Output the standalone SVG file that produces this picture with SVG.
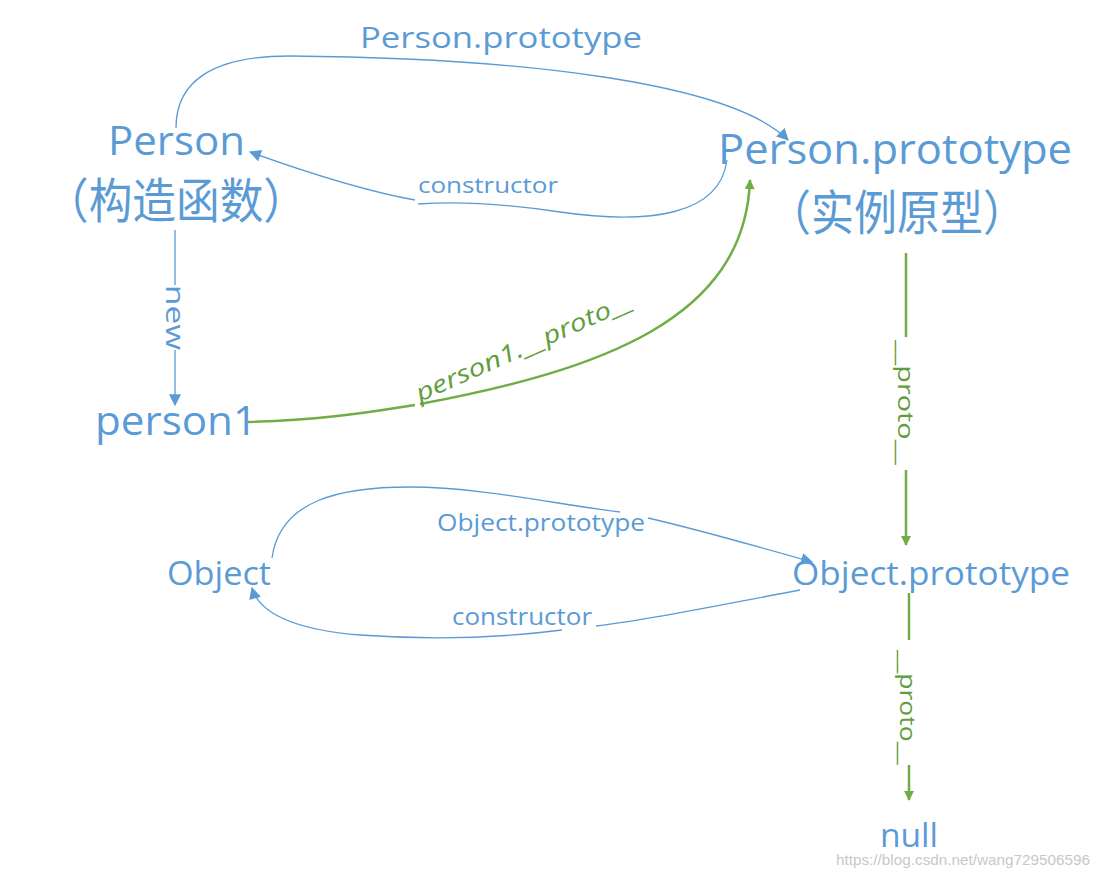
<svg xmlns="http://www.w3.org/2000/svg" width="1099" height="878" viewBox="0 0 1099 878">
<defs>
<style>
.b{fill:#5B9BD5;font-family:"Open Sans","Noto Sans",sans-serif}
.g{fill:#5E9E3C;font-family:"Open Sans","Noto Sans",sans-serif}
.lb{fill:none;stroke:#5B9BD5;stroke-width:1.3}
.lg{fill:none;stroke:#70AD47;stroke-width:2.5}
</style>
<marker id="ab" viewBox="0 0 10 10" refX="9" refY="5" markerWidth="6" markerHeight="6" markerUnits="userSpaceOnUse" orient="auto"><path d="M0,0L10,5L0,10z" fill="#5B9BD5"/></marker>
<marker id="abl" viewBox="0 0 10 10" refX="9" refY="5" markerWidth="14" markerHeight="12" markerUnits="userSpaceOnUse" orient="auto"><path d="M0,0L10,5L0,10z" fill="#5B9BD5"/></marker>
<marker id="ag" viewBox="0 0 10 10" refX="9" refY="5" markerWidth="14" markerHeight="10" markerUnits="userSpaceOnUse" orient="auto"><path d="M0,0L10,5L0,10z" fill="#70AD47"/></marker>
</defs>
<rect width="1099" height="878" fill="#fff"/>
<g id="connectors">
<path class="lb" d="M176,128 C176,80 215,56 290,56 C520,58 730,82 788,140" marker-end="url(#abl)"/>
<path class="lb" stroke-width="2.5" d="M727,160 C720,215 650,225 560,212 C520,206 470,200 418,204"/>
<path class="lb" stroke-width="2.5" d="M415,200 C360,190 300,170 250,152" marker-end="url(#abl)"/>
<path class="lb" stroke-width="2" d="M175,230 V285 M175,350 V405" marker-end="url(#abl)"/>
<path class="lg" d="M248,422 C330,420 380,410 415,405"/>
<path class="lg" d="M420,404 C600,370 745,320 750,180" marker-end="url(#ag)"/>
<path class="lg" d="M906,253 V337 M906,470 V545" marker-end="url(#ag)"/>
<path class="lg" d="M909,593 V640 M909,765 V800" marker-end="url(#ag)"/>
<path class="lb" stroke-width="1.5" d="M272,558 C280,500 340,487 410,487 C480,487 560,505 620,512"/>
<path class="lb" stroke-width="1.5" d="M648,518 C700,530 770,550 812,562" marker-end="url(#abl)"/>
<path class="lb" stroke-width="1.5" d="M800,590 C720,605 650,620 596,626"/>
<path class="lb" stroke-width="1.5" d="M562,630 C500,638 430,640 360,635 C300,630 260,615 252,588" marker-end="url(#abl)"/>
</g>
<g id="labels">
<text class="b" x="360" y="48" font-size="30" textLength="282" lengthAdjust="spacingAndGlyphs">Person.prototype</text>
<text class="b" x="418" y="193" font-size="22" textLength="140" lengthAdjust="spacingAndGlyphs">constructor</text>
<text class="b" font-size="26" transform="translate(166,285) rotate(90)" textLength="65" lengthAdjust="spacingAndGlyphs">new</text>
<text class="g" font-size="24" font-style="italic" transform="translate(420,402) rotate(-24)" textLength="235" lengthAdjust="spacingAndGlyphs">person1.__proto__</text>
<text class="g" font-size="22" transform="translate(898,340) rotate(90)" textLength="125" lengthAdjust="spacingAndGlyphs">__proto__</text>
<text class="b" x="437" y="531" font-size="24" textLength="208" lengthAdjust="spacingAndGlyphs">Object.prototype</text>
<text class="b" x="452" y="625" font-size="24" textLength="140" lengthAdjust="spacingAndGlyphs">constructor</text>
<text class="g" font-size="22" transform="translate(900,650) rotate(90)" textLength="115" lengthAdjust="spacingAndGlyphs">__proto__</text>
</g>
<g id="person"><text class="b" x="108" y="155" font-size="40" textLength="137" lengthAdjust="spacingAndGlyphs">Person</text>
<text class="b" x="45" y="218" font-size="48" textLength="262" lengthAdjust="spacingAndGlyphs" style="font-family:'Noto Sans CJK SC',sans-serif">（构造函数）</text></g>
<g id="person-prototype"><text class="b" x="718" y="164" font-size="42" textLength="354" lengthAdjust="spacingAndGlyphs">Person.prototype</text>
<text class="b" x="768" y="230" font-size="48" textLength="258" lengthAdjust="spacingAndGlyphs" style="font-family:'Noto Sans CJK SC',sans-serif">（实例原型）</text></g>
<g id="person1"><text class="b" x="95" y="435" font-size="40" textLength="162" lengthAdjust="spacingAndGlyphs">person1</text></g>
<g id="object"><text class="b" x="167" y="585" font-size="32" textLength="104" lengthAdjust="spacingAndGlyphs">Object</text></g>
<g id="object-prototype"><text class="b" x="792" y="585" font-size="32" textLength="278" lengthAdjust="spacingAndGlyphs">Object.prototype</text></g>
<g id="null"><text class="b" x="880" y="847" font-size="32" textLength="58" lengthAdjust="spacingAndGlyphs">null</text></g>
<text x="836" y="865" font-size="14" fill="#c8c8c8" font-family="Liberation Sans,sans-serif" textLength="254" lengthAdjust="spacingAndGlyphs">https://blog.csdn.net/wang729506596</text>
</svg>
